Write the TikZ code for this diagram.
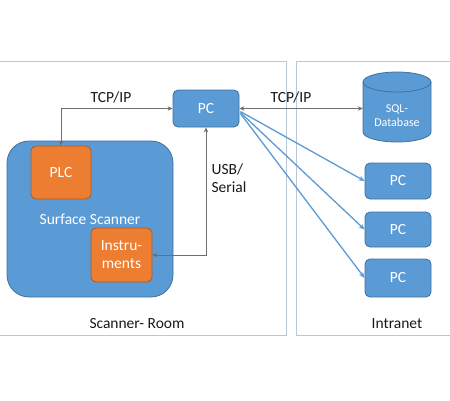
\documentclass[tikz,border=0pt]{standalone}
\usepackage{fontspec}
\setmainfont{Carlito}
\usetikzlibrary{arrows.meta,calc}
\definecolor{boxblue}{HTML}{5B9BD5}
\definecolor{boxblueline}{HTML}{41719C}
\definecolor{boxorange}{HTML}{ED7D31}
\definecolor{boxorangeline}{HTML}{AE5A21}
\definecolor{framecol}{HTML}{B8C8D8}
\definecolor{linkgray}{HTML}{6F6F6F}
\begin{document}
\begin{tikzpicture}[x=1pt,y=-1pt,
  bluebox/.style={draw=boxblueline,fill=boxblue,line width=0.8pt,rounded corners=5pt,text=white,inner sep=0pt,font=\fontsize{15.5}{18}\selectfont,align=center},
  orangebox/.style={draw=boxorangeline,fill=boxorange,line width=0.8pt,rounded corners=5pt,text=white,inner sep=0pt,font=\fontsize{15.5}{18}\selectfont,align=center},
  frame/.style={draw=framecol,line width=0.7pt},
  label/.style={font=\fontsize{15.5}{18}\selectfont,text=black!90,inner sep=0pt,align=left},
  link/.style={draw=linkgray,line width=0.8pt,{Stealth[length=5pt,width=4.5pt]}-{Stealth[length=5pt,width=4.5pt]}},
  bluelink/.style={draw=boxblue,line width=1.3pt,-{Stealth[length=6pt,width=5pt]}}]
\useasboundingbox (0,0) rectangle (450,400);
% frames
\draw[frame] (-5,61) rectangle (286,335);
\draw[frame] (296,61) rectangle (455,335);
% scanner
\node[bluebox,rounded corners=22pt,minimum width=166pt,minimum height=156pt] (scanner) at (90,219) {Surface Scanner};
\node[orangebox,minimum width=60pt,minimum height=53pt] (plc) at (61,172.5) {PLC};
\node[orangebox,minimum width=61pt,minimum height=54pt] (instr) at (121.5,255) {Instru-\\ments};
% top PC
\node[bluebox,minimum width=66pt,minimum height=37pt] (pc) at (206,108.5) {PC};
% SQL database
\node[minimum width=68pt,minimum height=70pt,inner sep=0pt] (sql) at (397,107) {};
\fill[boxblue] (363,82) -- (363,132) arc[start angle=180,end angle=0,x radius=34,y radius=10] -- (431,82) arc[start angle=0,end angle=-180,x radius=34,y radius=10] -- cycle;
\draw[boxblueline,line width=0.8pt] (363,82) -- (363,132) arc[start angle=180,end angle=0,x radius=34,y radius=10] -- (431,82) arc[start angle=0,end angle=-180,x radius=34,y radius=10] -- cycle;
\draw[boxblueline,line width=0.8pt] (363,82) arc[start angle=180,end angle=0,x radius=34,y radius=10];
\node[text=white,font=\fontsize{12}{14}\selectfont,align=center,inner sep=0pt] (sqltext) at (397,116) {SQL-\\Database};
% intranet PCs
\node[bluebox,minimum width=66pt,minimum height=36pt] (pc1) at (398,181) {PC};
\node[bluebox,minimum width=66pt,minimum height=35pt] (pc2) at (398,229.5) {PC};
\node[bluebox,minimum width=66pt,minimum height=38pt] (pc3) at (398,278) {PC};
% gray links
\draw[link] (pc.west) -| (plc.north);
\draw[link] (pc.south) |- (instr.east);
\draw[link] (pc.east) -- (pc.east -| sql.west);
% blue links
\draw[bluelink] ($(pc.east)+(1,3)$) -- (pc1.west);
\draw[bluelink] ($(pc.east)+(1,4)$) -- (pc2.west);
\draw[bluelink] ($(pc.east)+(1,5)$) -- (pc3.west);
% labels
\node[label] (tcp1) at (111,97) {TCP/IP};
\node[label] (tcp2) at (291,97) {TCP/IP};
\node[label] (usb) at (229,178) {USB/\\Serial};
\node[label] (room) at (137,324) {Scanner- Room};
\node[label] (intra) at (397,324) {Intranet};
\end{tikzpicture}
\end{document}
